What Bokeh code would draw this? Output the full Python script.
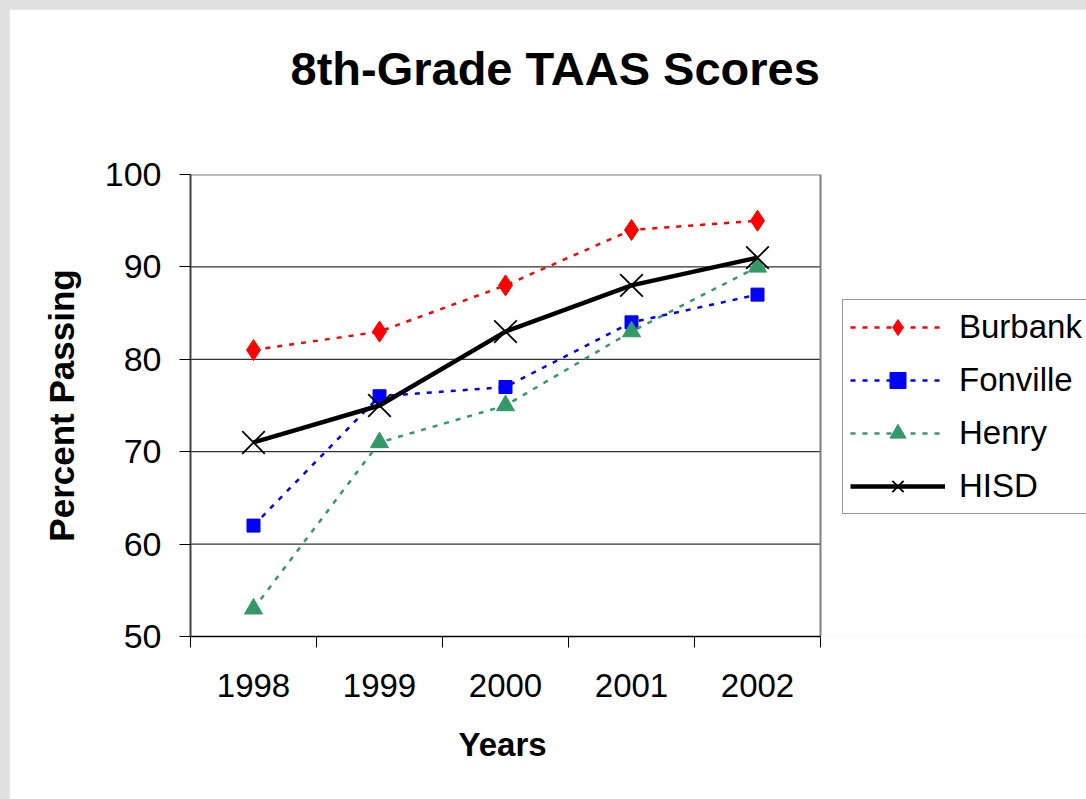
from bokeh.plotting import figure
from bokeh.models import FixedTicker, Legend, LegendItem, Range1d, Title
from bokeh.embed import file_html
from bokeh.resources import INLINE

# ---- data ----
years = [1998, 1999, 2000, 2001, 2002]
burbank = [81, 83, 88, 94, 95]
fonville = [62, 76, 77, 84, 87]
henry = [53, 71, 75, 83, 90]
hisd = [71, 75, 83, 88, 91]
y_ticks = [50, 60, 70, 80, 90, 100]

FONT = "Liberation Sans"

# layout (pixels)
W, H = 1077, 790
BORDER_L, BORDER_T, BORDER_B = 181, 165, 163
PLOT_W = 630            # width of the visible plotting box
FRAME_W = W - BORDER_L  # frame runs to the right edge so the legend can sit in it

bounds = [y - 0.5 for y in years] + [years[-1] + 0.5]
x_end = bounds[0] + (bounds[-1] - bounds[0]) * FRAME_W / PLOT_W

p = figure(width=W, height=H, output_backend="svg", toolbar_location=None,
           x_range=Range1d(bounds[0], x_end),
           y_range=Range1d(y_ticks[0], y_ticks[-1]),
           min_border_left=BORDER_L, min_border_right=0,
           min_border_top=BORDER_T, min_border_bottom=BORDER_B)
p.background_fill_color = "white"
p.border_fill_color = "white"
p.outline_line_color = None

# title (trailing blank line lifts the text away from the plot)
p.title.text = "8th-Grade TAAS Scores\n "
p.title.text_font = FONT
p.title.text_font_size = "47px"
p.title.text_font_style = "bold"
p.title.text_color = "black"
p.title.align = "left"
p.title.offset = 100
p.title.standoff = 54

# grid lines and plot box edges drawn only across the plotting box
p.xgrid.visible = False
p.ygrid.visible = False
grid_vals = y_ticks[1:-1]
p.segment(x0=[bounds[0]] * len(grid_vals), y0=grid_vals,
          x1=[bounds[-1]] * len(grid_vals), y1=grid_vals,
          line_color="black", line_width=1)
p.segment(x0=[bounds[0]], y0=[y_ticks[-1]], x1=[bounds[-1]], y1=[y_ticks[-1]],
          line_color="#808080", line_width=2)
p.segment(x0=[bounds[-1]], y0=[y_ticks[0]], x1=[bounds[-1]], y1=[y_ticks[-1]],
          line_color="#808080", line_width=2)

# y axis
p.yaxis.ticker = FixedTicker(ticks=y_ticks)
p.yaxis.major_tick_out = 11
p.yaxis.major_tick_in = 0
p.yaxis.minor_tick_out = 0
p.yaxis.minor_tick_in = 0
p.yaxis.major_tick_line_color = "black"
p.yaxis.axis_line_color = "#404040"
p.yaxis.axis_line_width = 2
p.yaxis.major_label_text_font = FONT
p.yaxis.major_label_text_font_size = "34px"
p.yaxis.major_label_text_color = "black"
p.yaxis.major_label_standoff = 18
p.yaxis.axis_label = "Percent Passing"
p.yaxis.axis_label_text_font = FONT
p.yaxis.axis_label_text_font_size = "35px"
p.yaxis.axis_label_text_font_style = "bold"
p.yaxis.axis_label_text_color = "black"
p.yaxis.axis_label_standoff = 21

# x axis
p.xaxis.bounds = (bounds[0], bounds[-1])
p.xaxis.ticker = FixedTicker(ticks=years, minor_ticks=bounds)
p.xaxis.major_label_overrides = {y: str(y) for y in years}
p.xaxis.major_tick_out = 0
p.xaxis.major_tick_in = 0
p.xaxis.minor_tick_out = 11
p.xaxis.minor_tick_in = 0
p.xaxis.minor_tick_line_color = "black"
p.xaxis.axis_line_color = "black"
p.xaxis.axis_line_width = 1.5
p.xaxis.major_label_text_font = FONT
p.xaxis.major_label_text_font_size = "33px"
p.xaxis.major_label_text_color = "black"
p.xaxis.major_label_standoff = 26

# x-axis title, centred under the plotting box
x_title = Title(text="Years", text_font=FONT, text_font_size="33px",
                text_font_style="bold", text_color="black",
                align="left", offset=268, standoff=52, vertical_align="top")
p.add_layout(x_title, "below")

# series
RED, BLUE, GREEN = "#FF0000", "#0000FF", "#339966"
b_l = p.line(years, burbank, line_color=RED, line_width=2.5, line_dash="5 7")
b_m = p.scatter(years, burbank, marker="diamond", size=21,
                fill_color=RED, line_color=RED)
f_l = p.line(years, fonville, line_color=BLUE, line_width=2.5, line_dash="5 7")
f_m = p.scatter(years, fonville, marker="square", size=13,
                fill_color=BLUE, line_color=BLUE)
h_l = p.line(years, henry, line_color=GREEN, line_width=2.5, line_dash="5 7")
h_m = p.scatter(years, henry, marker="triangle", size=18,
                fill_color=GREEN, line_color=GREEN)
d_l = p.line(years, hisd, line_color="black", line_width=4.5)
d_m = p.scatter(years, hisd, marker="x", size=32, line_color="black", line_width=1.8)

legend = Legend(items=[
    LegendItem(label="Burbank", renderers=[b_l, b_m]),
    LegendItem(label="Fonville", renderers=[f_l, f_m]),
    LegendItem(label="Henry", renderers=[h_l, h_m]),
    LegendItem(label="HISD", renderers=[d_l, d_m]),
], location=(PLOT_W + 22, 122))
legend.label_text_font = FONT
legend.label_text_font_size = "33px"
legend.label_text_color = "black"
legend.glyph_width = 95
legend.glyph_height = 40
legend.label_height = 40
legend.spacing = 13
legend.padding = 7
legend.label_standoff = 14
legend.border_line_color = "#333333"
legend.border_line_width = 1.5
legend.background_fill_color = "white"
legend.background_fill_alpha = 1
p.add_layout(legend)

html = file_html(p, INLINE)
css = ("<style>html,body{background:#e0e0e0 !important;margin:0 !important;"
       "overflow:hidden;}body{padding:9px 0 0 9px !important;}</style>")
if "</head>" in html:
    html = html.replace("</head>", css + "</head>", 1)
else:
    html = css + html
open("out.html", "w").write(html)
